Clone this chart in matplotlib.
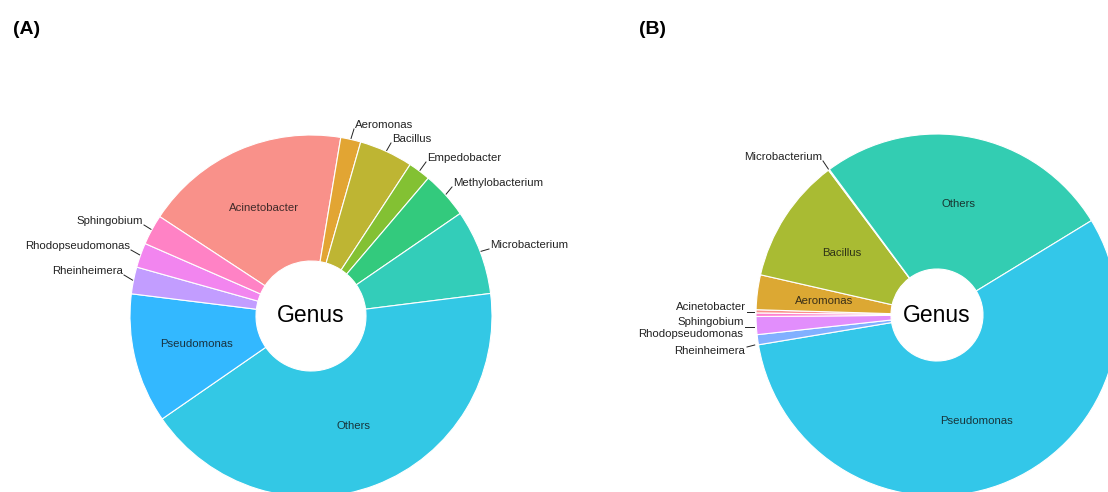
import numpy as np
import matplotlib.pyplot as plt
import matplotlib.colors as mcolors

plt.rcParams['font.family'] = ['Liberation Sans', 'DejaVu Sans']

W, H = 1108, 492

# ---- panel A: genus shares (%) ----
genus_a = ['Acinetobacter', 'Aeromonas', 'Bacillus', 'Empedobacter', 'Methylobacterium',
           'Microbacterium', 'Others', 'Pseudomonas', 'Rheinheimera', 'Rhodopseudomonas',
           'Sphingobium']
share_a = [18.4, 1.8, 4.8, 2.0, 4.2, 7.6, 42.4, 11.6, 2.4, 2.2, 2.7]

# ---- panel B: genus shares (%) ----
genus_b = ['Acinetobacter', 'Aeromonas', 'Bacillus', 'Microbacterium', 'Others',
           'Pseudomonas', 'Rheinheimera', 'Rhodopseudomonas', 'Sphingobium']
share_b = [0.3, 3.1, 11.2, 0.1, 26.4, 56.1, 0.9, 1.6, 0.3]

# ggplot hue palettes (11 and 9 levels)
colors_a = ['#F8766D', '#DB8E00', '#AEA200', '#64B200', '#00BD5C', '#00C1A7',
            '#00BADE', '#00A6FF', '#B385FF', '#EF67EB', '#FF63B6']
colors_b = ['#F8766D', '#D39200', '#93AA00', '#00BA38', '#00C19F', '#00B9E3',
            '#619CFF', '#DB72FB', '#FF61C3']


def soften(cols, alpha=0.8):
    # blend with white, like alpha fill on a white page
    out = []
    for c in cols:
        rgb = np.array(mcolors.to_rgb(c))
        out.append(tuple(rgb * alpha + (1 - alpha)))
    return out


# labels drawn inside the ring
inside_a = ['Acinetobacter', 'Others', 'Pseudomonas']
inside_b = ['Aeromonas', 'Bacillus', 'Others', 'Pseudomonas']

# outside labels: text anchor in pixel coords (x, y from top), alignment,
# and the leader style ('edge' = line to the slice edge, 'flat' = short
# horizontal tick, 'up' = short tick rising to the edge, None = no line)
outside_a = {
    'Aeromonas': (355, 125, 'left', 'edge'),
    'Bacillus': (392, 139, 'left', 'edge'),
    'Empedobacter': (427, 158, 'left', 'edge'),
    'Methylobacterium': (453, 183, 'left', 'edge'),
    'Microbacterium': (490, 245, 'left', 'edge'),
    'Sphingobium': (143, 221, 'right', 'edge'),
    'Rhodopseudomonas': (130, 246, 'right', 'edge'),
    'Rheinheimera': (123, 271, 'right', 'edge'),
}
outside_b = {
    'Microbacterium': (822, 157, 'right', 'edge'),
    'Acinetobacter': (746, 307, 'right', 'flat'),
    'Sphingobium': (744, 322, 'right', 'flat'),
    'Rhodopseudomonas': (743, 334, 'right', None),
    'Rheinheimera': (745, 351, 'right', 'up'),
}

fig = plt.figure(figsize=(W / 100, H / 100), dpi=100)
ax = fig.add_axes([0, 0, 1, 1])


def donut(names, vals, cols, cx, cy, r_out, r_in, start, inside, outside):
    wedges, _ = ax.pie(vals, colors=soften(cols), startangle=start, counterclock=False,
                       center=(cx, H - cy), radius=r_out,
                       wedgeprops=dict(width=r_out - r_in, edgecolor='white', linewidth=0.8))
    r_mid = (r_out + r_in) / 2
    for name, w in zip(names, wedges):
        mid = np.deg2rad((w.theta1 + w.theta2) / 2)
        if name in inside:
            ax.text(cx + r_mid * np.cos(mid), H - cy + r_mid * np.sin(mid), name,
                    ha='center', va='center', fontsize=8.2, color='#111111', alpha=0.8)
        elif name in outside:
            tx, ty, ha, lead = outside[name]
            ex = cx + (r_out + 1) * np.cos(mid)
            ey = H - cy + (r_out + 1) * np.sin(mid)
            lx = tx - 1 if ha == 'left' else tx + 1
            if lead == 'edge':
                ax.plot([ex, lx], [ey, H - (ty + 4)], color='#222222', lw=0.7)
            elif lead == 'flat':
                ax.plot([tx + 1, ex - 1], [H - (ty + 5), H - (ty + 5)], color='#222222', lw=0.7)
            elif lead == 'up':
                ax.plot([tx + 2, ex - 2], [H - (ty - 4), H - (ty - 6)], color='#222222', lw=0.7)
            ax.text(tx, H - ty, name, ha=ha, va='center', fontsize=8.2, color='#222222')
    ax.text(cx, H - cy, 'Genus', ha='center', va='center', fontsize=16.5, color='black')


donut(genus_a, share_a, colors_a, 311, 316, 181, 55, 146.7, inside_a, outside_a)
donut(genus_b, share_b, colors_b, 937, 315, 181, 46, 179.4, inside_b, outside_b)

ax.set_xlim(0, W)
ax.set_ylim(0, H)
ax.set_aspect('equal')
ax.axis('off')

fig.text(13 / W, 1 - 30 / H, '(A)', ha='left', va='center', fontsize=14, fontweight='bold')
fig.text(639 / W, 1 - 30 / H, '(B)', ha='left', va='center', fontsize=14, fontweight='bold')

fig.savefig('out.png', dpi=100, facecolor='white')
